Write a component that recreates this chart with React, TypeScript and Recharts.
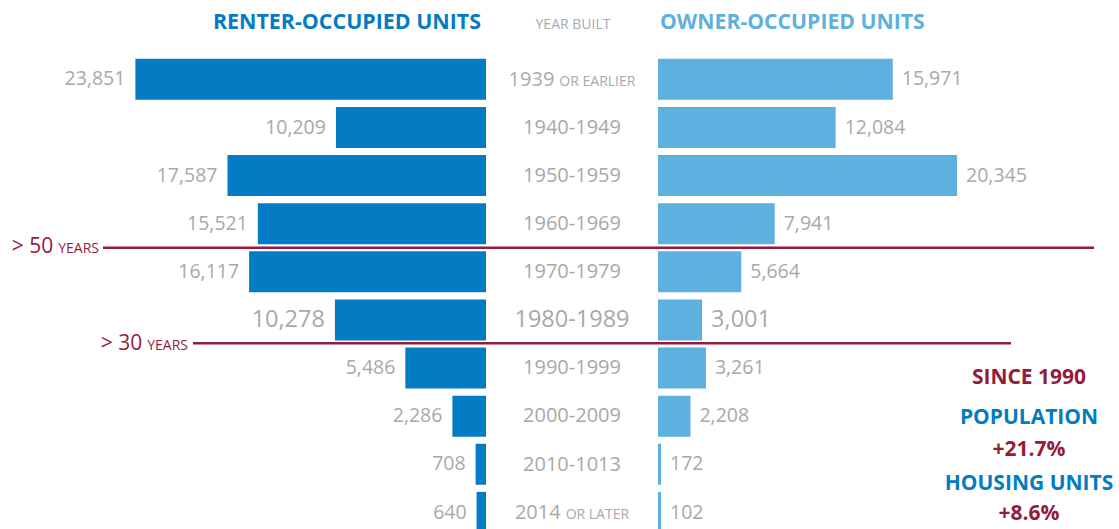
import { Bar, BarChart, LabelList, XAxis, YAxis } from 'recharts'

const years = [
  '1939 OR EARLIER',
  '1940-1949',
  '1950-1959',
  '1960-1969',
  '1970-1979',
  '1980-1989',
  '1990-1999',
  '2000-2009',
  '2010-1013',
  '2014 OR LATER',
]
const renterUnits = [23851, 10209, 17587, 15521, 16117, 10278, 5486, 2286, 708, 640]
const ownerUnits = [15971, 12084, 20345, 7941, 5664, 3001, 3261, 2208, 172, 102]
const emphasized = '1980-1989'

const data = years.map((year, i) => ({ year, renter: renterUnits[i], owner: ownerUnits[i] }))

const font = "'Open Sans', sans-serif"
const grey = '#a7a9ac'
const renterBlue = '#037cc4'
const ownerBlue = '#5eb0df'
const maroon = '#951b3d'

// px per unit, shared by both halves
const k = 0.0147
const H = 536
const margin = { top: 54.75, right: 0, bottom: 0, left: 0 }

function sizeFor(i: number, normal: number, big: number) {
  return years[i] === emphasized ? big : normal
}

function RenterLabel(props: any) {
  const vb = props.viewBox ?? props
  const x = Number(vb.x)
  const w = Number(vb.width)
  const i = props.index ?? renterUnits.indexOf(Number(props.value))
  const fs = sizeFor(i, 19.5, 23.5)
  return (
    <text
      x={Math.min(x, x + w) - 10}
      y={Number(vb.y) + Number(vb.height) / 2 + fs * 0.32}
      textAnchor="end"
      fill={grey}
      fontFamily={font}
      fontSize={fs}
    >
      {Number(props.value).toLocaleString('en-US')}
    </text>
  )
}

function OwnerLabel(props: any) {
  const vb = props.viewBox ?? props
  const x = Number(vb.x)
  const w = Number(vb.width)
  const i = props.index ?? ownerUnits.indexOf(Number(props.value))
  const fs = sizeFor(i, 19.5, 23.5)
  return (
    <text
      x={Math.max(x, x + w) + 9}
      y={Number(vb.y) + Number(vb.height) / 2 + fs * 0.32}
      textAnchor="start"
      fill={grey}
      fontFamily={font}
      fontSize={fs}
    >
      {Number(props.value).toLocaleString('en-US')}
    </text>
  )
}

function YearTick(props: any) {
  const { x, y, payload } = props
  const label: string = payload.value
  const fs = label === emphasized ? 23.5 : 20
  const parts = label.split(' ')
  const main = parts[0]
  const suffix = parts.slice(1).join(' ')
  return (
    <text x={x - 86} y={y + fs * 0.34} textAnchor="middle" fill={grey} fontFamily={font} fontSize={fs}>
      <tspan>{main}</tspan>
      {suffix && (
        <tspan dx={5} fontSize={14}>
          {suffix}
        </tspan>
      )}
    </text>
  )
}

export default function App() {
  return (
    <div
      style={{
        position: 'fixed',
        left: 0,
        top: 0,
        width: 1119,
        height: 529,
        overflow: 'hidden',
        background: '#fff',
        fontFamily: font,
      }}
    >
      <div style={{ position: 'absolute', left: 0, top: 0 }}>
        <BarChart width={486} height={H} data={data} layout="vertical" margin={margin}>
          <XAxis type="number" hide reversed domain={[0, 486 / k]} />
          <YAxis type="category" dataKey="year" hide />
          <Bar dataKey="renter" fill={renterBlue} barSize={41} isAnimationActive={false}>
            <LabelList dataKey="renter" content={RenterLabel} />
          </Bar>
        </BarChart>
      </div>
      <div style={{ position: 'absolute', left: 486, top: 0 }}>
        <BarChart width={633} height={H} data={data} layout="vertical" margin={margin}>
          <XAxis type="number" hide domain={[0, 461 / k]} />
          <YAxis
            type="category"
            dataKey="year"
            width={172}
            tickSize={0}
            tickMargin={0}
            tickLine={false}
            axisLine={false}
            interval={0}
            tick={YearTick}
          />
          <Bar dataKey="owner" fill={ownerBlue} barSize={41} minPointSize={3} isAnimationActive={false}>
            <LabelList dataKey="owner" content={OwnerLabel} />
          </Bar>
        </BarChart>
      </div>
      <svg
        width={1119}
        height={529}
        style={{ position: 'absolute', left: 0, top: 0, pointerEvents: 'none' }}
        fontFamily={font}
      >
        <text x={481} y={29} textAnchor="end" fill={renterBlue} fontSize={21.4} fontWeight={700}>
          RENTER-OCCUPIED UNITS
        </text>
        <text x={573} y={28.5} textAnchor="middle" fill={grey} fontSize={14}>
          YEAR BUILT
        </text>
        <text x={660} y={29} textAnchor="start" fill={ownerBlue} fontSize={21.2} fontWeight={700}>
          OWNER-OCCUPIED UNITS
        </text>

        <line x1={103} x2={1094} y1={247.7} y2={247.7} stroke={maroon} strokeWidth={2.5} />
        <line x1={193} x2={1011} y1={343.3} y2={343.3} stroke={maroon} strokeWidth={2.5} />
        <text x={99} y={252.5} textAnchor="end" fill={maroon} fontSize={21}>
          {'> 50'}
          <tspan dx={5} fontSize={14}>
            YEARS
          </tspan>
        </text>
        <text x={188} y={350} textAnchor="end" fill={maroon} fontSize={21}>
          {'> 30'}
          <tspan dx={5} fontSize={14}>
            YEARS
          </tspan>
        </text>

        <g textAnchor="middle" fontSize={21} fontWeight={700}>
          <text x={1029} y={384} fill={maroon}>
            SINCE 1990
          </text>
          <text x={1029} y={424} fill={renterBlue}>
            POPULATION
          </text>
          <text x={1029} y={456} fill={maroon}>
            +21.7%
          </text>
          <text x={1029} y={490} fill={renterBlue}>
            HOUSING UNITS
          </text>
          <text x={1029} y={520} fill={maroon}>
            +8.6%
          </text>
        </g>
      </svg>
    </div>
  )
}
